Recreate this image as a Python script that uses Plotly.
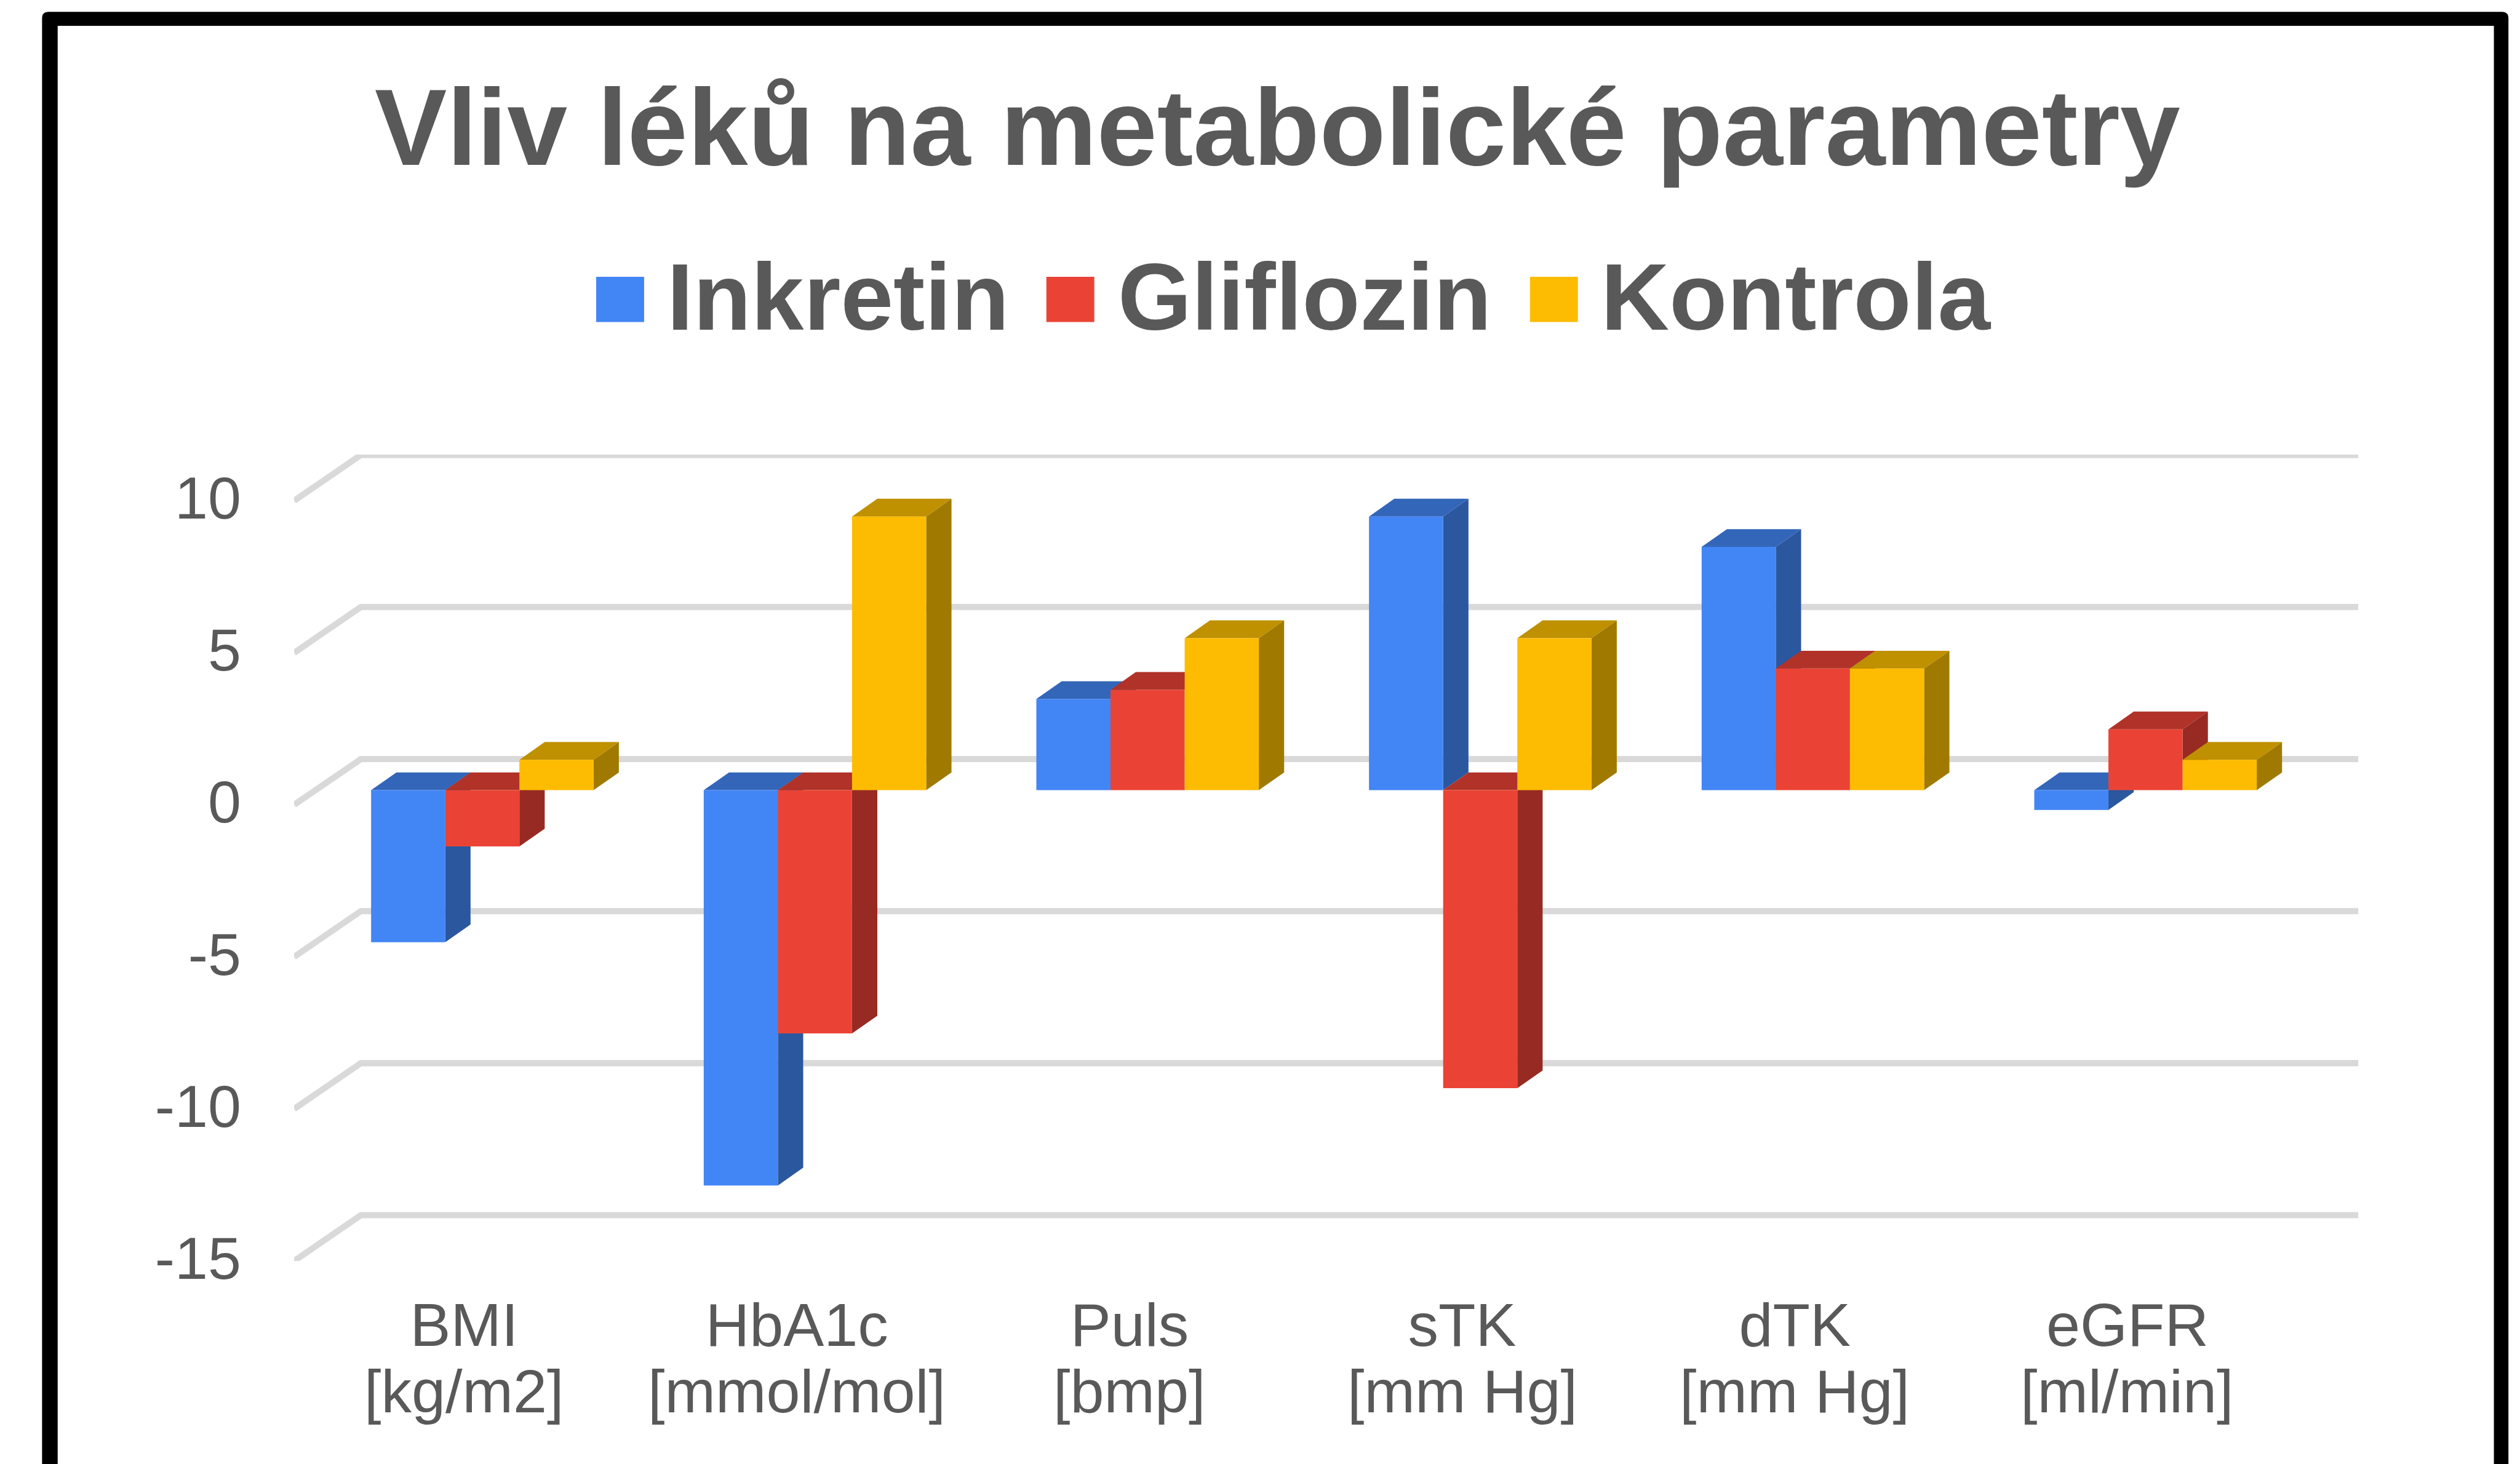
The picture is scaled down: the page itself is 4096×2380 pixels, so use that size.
import plotly.graph_objects as go

# ---------- data ----------
categories = ["BMI", "HbA1c", "Puls", "sTK", "dTK", "eGFR"]
units = ["[kg/m2]", "[mmol/mol]", "[bmp]", "[mm Hg]", "[mm Hg]", "[ml/min]"]
series_names = ["Inkretin", "Gliflozin", "Kontrola"]
inkretin = [-5, -13, 3, 9, 8, -0.65]
gliflozin = [-1.85, -8, 3.3, -9.8, 4, 2]
kontrola = [1, 9, 5, 5, 4, 1]
y_ticks = [10, 5, 0, -5, -10, -15]
title_text = "Vliv léků na metabolické parametry"

front_colors = ["#4285F4", "#EA4335", "#FDBC02"]
top_colors = ["#3366B9", "#B03228", "#BF9000"]
side_colors = ["#2B579F", "#972A22", "#A07A00"]
TEXT = "#595959"
GRID = "#D9D9D9"

# ---------- geometry (reference pixels; S scales to the window) ----------
S = 0.875
W, H = 4096, 2380
RW, RH = 4679, 2719
PX_UNIT = 56.45          # ref px per value unit
PX_GROUP = 617.7         # ref px per category
TICK0 = 862              # ref x of the first category
L, R, T, B = 546, 4379, 845, 2342
FLOOR_DX, FLOOR_DY = 124 / PX_GROUP, 85 / PX_UNIT
BAR_W = 137.7 / PX_GROUP
BAR_DX, BAR_DY = 47 / PX_GROUP, 33 / PX_UNIT
BAR_BASE = (2342 - 15 * PX_UNIT - 1468) / PX_UNIT
BAR_START = (689 - TICK0) / PX_GROUP


def xpaper(px):
    return (px - L) / (R - L)


def ypaper(py):
    return (B - py) / (B - T)


x_lo = (L - TICK0) / PX_GROUP
x_hi = (R - TICK0) / PX_GROUP
y_hi = -15 + (B - T) / PX_UNIT

fig = go.Figure()

# gridlines: front edge -> back wall corner -> along the back wall
gx, gy = [], []
for v in y_ticks:
    gx += [x_lo, x_lo + FLOOR_DX, x_hi, None]
    gy += [v, v + FLOOR_DY, v + FLOOR_DY, None]
fig.add_trace(go.Scatter(x=gx, y=gy, mode="lines", cliponaxis=False, zorder=0, showlegend=False,
                         hoverinfo="skip", line=dict(color=GRID, width=11.5 * S, shape="linear")))

all_values = [inkretin, gliflozin, kontrola]
for s, (name, vals) in enumerate(zip(series_names, all_values)):
    tx, ty, sx, sy, lefts = [], [], [], [], []
    for i, v in enumerate(vals):
        x0 = i + BAR_START + s * BAR_W
        x1 = x0 + BAR_W
        lefts.append(x0)
        up = max(v, 0) + BAR_BASE
        down = min(v, 0) + BAR_BASE
        tx += [x0, x0 + BAR_DX, x1 + BAR_DX, x1, x0, None]
        ty += [up, up + BAR_DY, up + BAR_DY, up, up, None]
        sx += [x1, x1 + BAR_DX, x1 + BAR_DX, x1, x1, None]
        sy += [down, down + BAR_DY, up + BAR_DY, up, down, None]
    z = 1 + 2 * s
    fig.add_trace(go.Scatter(x=sx, y=sy, mode="lines", fill="toself", fillcolor=side_colors[s],
                             line=dict(width=0), zorder=z, showlegend=False, hoverinfo="skip"))
    fig.add_trace(go.Scatter(x=tx, y=ty, mode="lines", fill="toself", fillcolor=top_colors[s],
                             line=dict(width=0), zorder=z, showlegend=False, hoverinfo="skip"))
    fig.add_trace(go.Bar(x=lefts, y=vals, base=BAR_BASE, width=BAR_W, offset=0, name=name,
                         marker=dict(color=front_colors[s], line=dict(width=0)),
                         zorder=z + 1, showlegend=False, cliponaxis=False))

annotations = []
# second line of the category labels
for i, u in enumerate(units):
    annotations.append(dict(text=u, x=i, xref="x", y=ypaper(2583), yref="paper", xanchor="center",
                            yanchor="middle", showarrow=False, font=dict(size=99, color=TEXT,
                            family="Liberation Sans, Arial, sans-serif")))

# legend
swatch_x = [1107, 1943, 2841]
text_x = [1236, 2074, 2970]
shapes = []
r = 12
fx0, fx1, fy0, fy1 = 78, 4658, 23, 2800
fy = ypaper
fp = xpaper
outer = (f"M {fp(fx0)},{fy(fy1)} L {fp(fx0)},{fy(fy0 + r)} Q {fp(fx0)},{fy(fy0)} {fp(fx0 + r)},{fy(fy0)} "
         f"L {fp(fx1 - r)},{fy(fy0)} Q {fp(fx1)},{fy(fy0)} {fp(fx1)},{fy(fy0 + r)} L {fp(fx1)},{fy(fy1)} Z")
shapes.append(dict(type="path", path=outer, xref="paper", yref="paper", fillcolor="#000000",
                   line=dict(width=0), layer="below"))
shapes.append(dict(type="rect", x0=fp(107), x1=fp(4631), y0=fy(49), y1=fy(2800), xref="paper", yref="paper",
                   fillcolor="#FFFFFF", line=dict(width=0), layer="below"))
for s, name in enumerate(series_names):
    shapes.append(dict(type="rect", x0=fp(swatch_x[s]), x1=fp(swatch_x[s] + 89), y0=fy(515), y1=fy(599),
                       xref="paper", yref="paper", fillcolor=front_colors[s], line=dict(width=0)))
    annotations.append(dict(text=f"<b>{name}</b>", x=fp(text_x[s]), xref="paper", y=fy(553), yref="paper",
                            xanchor="left", yanchor="middle", showarrow=False,
                            font=dict(size=154, color=TEXT, family="Liberation Sans, Arial, sans-serif")))
annotations.append(dict(text=f"<b>{title_text}</b>", x=fp(2372), xref="paper", y=fy(238), yref="paper",
                        xanchor="center", yanchor="middle", showarrow=False,
                        font=dict(size=176, color=TEXT, family="Liberation Sans, Arial, sans-serif")))

fig.update_layout(
    width=W, height=H, autosize=False, paper_bgcolor="#FFFFFF", plot_bgcolor="rgba(0,0,0,0)",
    margin=dict(l=L * S, r=(RW - R) * S, t=T * S, b=(RH - B) * S, pad=0),
    showlegend=False, barmode="overlay", shapes=shapes, annotations=annotations,
    font=dict(family="Liberation Sans, Arial, sans-serif", color=TEXT),
    xaxis=dict(range=[x_lo, x_hi], tickmode="array", tickvals=list(range(len(categories))), ticktext=categories,
               showgrid=False, zeroline=False, showline=False, ticks="", ticklabelstandoff=38,
               tickfont=dict(size=99, color=TEXT)),
    yaxis=dict(range=[-15, y_hi], tickmode="array", tickvals=y_ticks, ticktext=[str(t) for t in y_ticks],
               showgrid=False, zeroline=False, showline=False, ticks="", ticklabelstandoff=85,
               ticklabelshift=-5, tickfont=dict(size=97, color=TEXT)),
)
fig.write_html("out.html", config={"displayModeBar": False},
               post_script="document.body.style.margin='0';document.body.style.overflow='hidden';")
